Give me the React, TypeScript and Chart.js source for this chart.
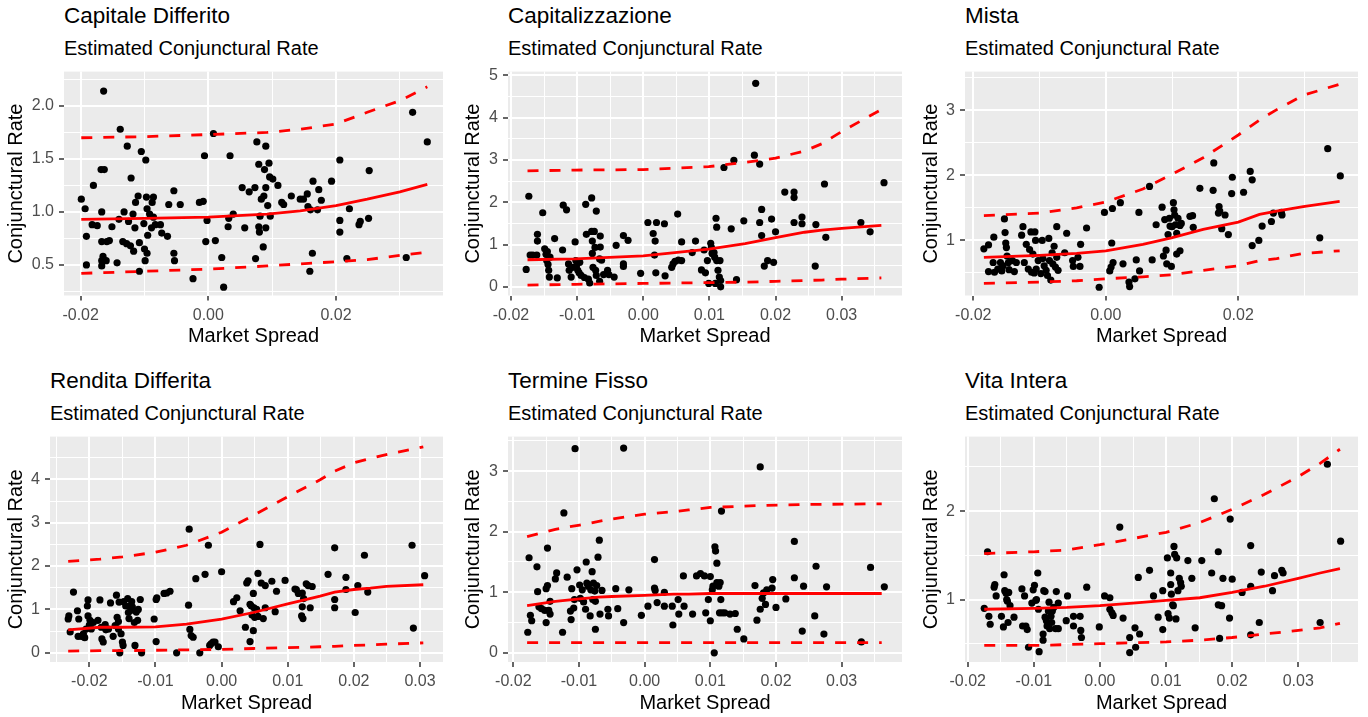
import React, { useEffect, useRef } from "react";
import { Chart, registerables } from "chart.js";

Chart.register(...registerables);

const FONT = "'Liberation Sans', Arial, Helvetica, sans-serif";

// ---------------- DATA ----------------
// Capitale Differito
const capitaleDifferitoSpread = [
  -0.0199, -0.0193, -0.0191, -0.0191, -0.018, -0.0182, -0.0174, -0.0167, -0.0168, -0.0163,
  -0.0164, -0.0167, -0.0165, -0.0167, -0.0167, -0.016, -0.0159, -0.0155, -0.0151, -0.0143,
  -0.014, -0.0138, -0.0134, -0.0132, -0.0128, -0.0127, -0.0125, -0.0122, -0.0121, -0.0118,
  -0.0117, -0.0115, -0.0114, -0.011, -0.0108, -0.0108, -0.0105, -0.0101, -0.01, -0.0099,
  -0.0098, -0.0097, -0.0096, -0.0096, -0.0095, -0.0092, -0.0089, -0.0088, -0.0086, -0.0086,
  -0.0083, -0.0075, -0.0073, -0.0064, -0.0062, -0.0054, -0.0054, -0.0053, -0.0044, -0.0024,
  -0.0014, -0.0008, -0.0006, -0.0004, -0.0002, 0.0008, 0.0011, 0.0021, 0.0024, 0.0031,
  0.0032, 0.0034, 0.0039, 0.0057, 0.0053, 0.0064, 0.0073, 0.0074, 0.0076, 0.0079,
  0.0079, 0.008, 0.0081, 0.0083, 0.0086, 0.0087, 0.0088, 0.009, 0.009, 0.009,
  0.0093, 0.0095, 0.0096, 0.0097, 0.0101, 0.0109, 0.0115, 0.0118, 0.013, 0.0144,
  0.0149, 0.0155, 0.0156, 0.0159, 0.016, 0.0163, 0.0164, 0.0171, 0.0173, 0.0177,
  0.0193, 0.0206, 0.0206, 0.0206, 0.0217, 0.0221, 0.0236, 0.0238, 0.0251, 0.0252,
  0.031, 0.032, 0.0343,
];
const capitaleDifferitoRate = [
  1.12, 1.03, 0.77, 0.5, 1.25, 0.88, 0.87, 1.0, 1.4, 1.4,
  2.14, 0.72, 0.58, 0.54, 0.49, 0.54, 0.72, 0.73, 0.86, 0.52,
  0.93, 1.78, 0.72, 1.0, 0.7, 1.62, 0.91, 0.68, 1.32, 0.98,
  0.63, 0.85, 1.09, 1.15, 0.44, 0.71, 1.57, 0.89, 0.65, 0.54,
  1.49, 1.14, 1.03, 0.61, 0.78, 0.98, 0.85, 1.09, 1.14, 0.95,
  0.88, 0.88, 0.8, 0.77, 1.07, 1.2, 0.61, 0.54, 1.07, 0.37,
  1.09, 1.1, 1.53, 0.72, 0.92, 1.74, 0.73, 0.57, 0.29, 0.86,
  0.94, 1.53, 0.98, 0.85, 1.23, 1.19, 1.23, 0.56, 1.66, 1.45,
  0.86, 0.81, 0.96, 1.12, 0.67, 1.15, 1.4, 1.23, 1.62, 0.85,
  1.06, 1.46, 1.33, 0.96, 1.31, 1.25, 1.09, 1.07, 1.15, 1.12,
  1.12, 1.17, 1.05, 0.44, 1.02, 0.61, 1.29, 1.02, 1.21, 1.11,
  1.29, 1.49, 0.92, 0.81, 0.56, 1.03, 0.88, 0.91, 0.94, 1.39,
  0.57, 1.94, 1.66,
];
const capitaleDifferitoCurveSpread = [-0.0199, -0.01, 0, 0.0092, 0.0144, 0.02, 0.0249, 0.03, 0.0343];
const capitaleDifferitoFit = [0.93, 0.94, 0.95, 0.98, 1.01, 1.06, 1.12, 1.19, 1.26];
const capitaleDifferitoUpper = [1.7, 1.71, 1.73, 1.75, 1.78, 1.83, 1.94, 2.05, 2.18];
const capitaleDifferitoLower = [0.42, 0.44, 0.46, 0.49, 0.51, 0.53, 0.55, 0.59, 0.62];

// Capitalizzazione
const capitalizzazioneSpread = [
  -0.0177, -0.0173, -0.0171, -0.0167, -0.0161, -0.016, -0.016, -0.0152, -0.0149, -0.0147,
  -0.0146, -0.0145, -0.0144, -0.0143, -0.0142, -0.0141, -0.0134, -0.013, -0.0122, -0.0121,
  -0.0116, -0.0113, -0.0112, -0.0109, -0.0107, -0.0103, -0.0102, -0.0101, -0.0099, -0.0097,
  -0.0096, -0.0094, -0.0089, -0.0087, -0.0086, -0.0083, -0.0081, -0.0078, -0.0078, -0.0077,
  -0.0077, -0.0076, -0.0074, -0.0073, -0.0072, -0.0071, -0.0071, -0.0066, -0.0066, -0.0065,
  -0.0065, -0.0063, -0.006, -0.0054, -0.0052, -0.0044, -0.0041, -0.003, -0.003, -0.003,
  -0.0023, -0.0004, 0.0007, 0.0015, 0.0017, 0.0018, 0.0019, 0.002, 0.0032, 0.0033,
  0.0043, 0.0045, 0.0048, 0.0052, 0.0053, 0.0058, 0.0058, 0.0074, 0.0079, 0.0088,
  0.0092, 0.0094, 0.0097, 0.0099, 0.0102, 0.0103, 0.0104, 0.0107, 0.0108, 0.0109,
  0.011, 0.0111, 0.0111, 0.0113, 0.0115, 0.0116, 0.0117, 0.0117, 0.0122, 0.0133,
  0.0137, 0.0141, 0.0152, 0.0168, 0.017, 0.0176, 0.0176, 0.0179, 0.0179, 0.0183,
  0.0188, 0.0194, 0.0197, 0.02, 0.0214, 0.0228, 0.0228, 0.0228, 0.024, 0.024,
  0.026, 0.0261, 0.0274, 0.0276, 0.0329, 0.0343, 0.0364,
];
const capitalizzazioneRate = [
  0.41, 2.14, 0.75, 0.75, 0.75, 1.24, 1.08, 1.75, 0.9, 0.77,
  0.62, 0.83, 0.53, 0.39, 0.23, 0.7, 1.14, 0.21, 0.87, 1.93,
  1.82, 0.54, 0.39, 0.23, 0.46, 1.06, 0.62, 0.49, 0.39, 0.33,
  0.58, 0.27, 0.22, 1.95, 1.24, 0.18, 0.09, 2.1, 1.31, 1.08,
  0.79, 0.46, 1.31, 0.93, 0.39, 1.79, 0.27, 0.66, 0.13, 1.2,
  0.94, 0.63, 0.29, 0.39, 0.29, 0.23, 0.98, 1.21, 0.54, 0.48,
  1.1, 0.32, 1.52, 1.26, 0.75, 1.08, 0.33, 1.52, 1.49, 0.26,
  0.46, 0.54, 0.6, 1.72, 0.63, 1.06, 0.62, 0.81, 1.08, 0.4,
  0.87, 0.33, 0.62, 0.08, 1.03, 0.93, 0.79, 0.81, 0.7, 0.08,
  1.62, 1.41, 0.62, 0.39, 0.23, 0.62, 0.0, 0.15, 2.82, 1.37,
  2.99, 0.17, 1.56, 3.11, 4.81, 2.9, 1.52, 1.83, 1.21, 0.49,
  0.62, 1.6, 0.58, 1.3, 2.24, 2.24, 2.11, 1.52, 1.65, 1.49,
  0.49, 1.47, 2.43, 1.17, 1.52, 1.3, 2.46,
];
const capitalizzazioneCurveSpread = [-0.0175, -0.0103, 0, 0.0099, 0.0154, 0.02, 0.0244, 0.027, 0.03, 0.036];
const capitalizzazioneFit = [0.64, 0.66, 0.73, 0.89, 1.02, 1.16, 1.29, 1.34, 1.38, 1.45];
const capitalizzazioneUpper = [2.74, 2.76, 2.77, 2.84, 2.94, 3.04, 3.21, 3.38, 3.67, 4.19];
const capitalizzazioneLower = [0.04, 0.06, 0.08, 0.1, 0.11, 0.13, 0.15, 0.16, 0.18, 0.21];

// Mista
const mistaSpread = [
  -0.0184, -0.0177, -0.0177, -0.0169, -0.017, -0.0168, -0.0163, -0.0159, -0.0157, -0.0155,
  -0.0153, -0.0152, -0.0151, -0.015, -0.0149, -0.0147, -0.0146, -0.0141, -0.0138, -0.0135,
  -0.0127, -0.0125, -0.0123, -0.012, -0.0117, -0.0115, -0.0113, -0.0112, -0.011, -0.0108,
  -0.0107, -0.0106, -0.0105, -0.0102, -0.0098, -0.0096, -0.0095, -0.0093, -0.009, -0.0088,
  -0.0086, -0.0085, -0.0083, -0.0081, -0.008, -0.0078, -0.0076, -0.0074, -0.0074, -0.0072,
  -0.0062, -0.0059, -0.005, -0.0049, -0.0042, -0.0039, -0.0038, -0.0029, -0.001, -0.0002,
  0.0006, 0.0008, 0.0009, 0.001, 0.0011, 0.0022, 0.0026, 0.0035, 0.0036, 0.0044,
  0.0046, 0.005, 0.0051, 0.0066, 0.007, 0.0076, 0.0085, 0.0087, 0.0089, 0.0091,
  0.0092, 0.0094, 0.0096, 0.0097, 0.0099, 0.01, 0.0102, 0.0103, 0.0104, 0.0105,
  0.0107, 0.0107, 0.0109, 0.0112, 0.0112, 0.0114, 0.0127, 0.0131, 0.0132, 0.0142,
  0.0162, 0.0163, 0.017, 0.0171, 0.0172, 0.0175, 0.018, 0.0185, 0.019, 0.0191,
  0.0208, 0.0218, 0.0221, 0.0221, 0.0231, 0.0236, 0.025, 0.0253, 0.0265, 0.0266,
  0.0323, 0.0335, 0.0354,
];
const mistaRate = [
  0.87, 0.93, 0.52, 1.05, 0.66, 0.51, 0.56, 0.66, 0.53, 0.61,
  1.33, 1.12, 0.96, 0.89, 0.76, 0.66, 0.55, 0.69, 0.52, 0.66,
  1.08, 1.21, 0.66, 0.94, 0.56, 0.86, 1.13, 0.51, 0.79, 0.5,
  1.13, 1.0, 0.56, 0.69, 0.49, 1.0, 0.72, 0.61, 0.54, 0.46,
  1.03, 0.69, 0.39, 0.81, 0.64, 0.91, 0.59, 1.21, 0.74, 0.54,
  0.81, 1.11, 0.69, 0.6, 0.74, 0.6, 0.94, 1.19, 0.28, 1.43,
  0.53, 0.59, 0.96, 1.49, 0.66, 1.58, 0.64, 0.36, 0.29, 0.41,
  0.7, 1.43, 0.53, 1.83, 0.7, 1.24, 1.51, 0.76, 1.32, 0.85,
  0.64, 1.09, 1.34, 1.22, 0.6, 1.21, 1.58, 1.47, 1.39, 1.24,
  0.79, 1.11, 1.34, 1.23, 0.84, 1.26, 1.37, 1.38, 1.2, 1.8,
  1.77, 2.19, 1.42, 1.52, 1.45, 1.18, 1.39, 1.09, 1.72, 1.97,
  1.74, 2.06, 1.93, 0.92, 1.0, 1.22, 1.29, 1.42, 1.43, 1.39,
  1.04, 2.41, 1.99,
];
const mistaCurveSpread = [-0.0184, -0.01, -0.0044, 0, 0.0056, 0.0099, 0.0147, 0.02, 0.0232, 0.0258, 0.0298, 0.0353];
const mistaFit = [0.74, 0.77, 0.8, 0.84, 0.94, 1.04, 1.17, 1.28, 1.4, 1.45, 1.52, 1.6];
const mistaUpper = [1.38, 1.42, 1.5, 1.59, 1.79, 2.01, 2.27, 2.62, 2.85, 3.01, 3.23, 3.4];
const mistaLower = [0.34, 0.36, 0.38, 0.41, 0.44, 0.47, 0.54, 0.61, 0.69, 0.72, 0.8, 0.84];

// Rendita Differita
const renditaDifferitaSpread = [
  -0.0232, -0.0231, -0.0229, -0.0224, -0.0218, -0.0216, -0.0217, -0.0212, -0.0209, -0.0207,
  -0.0205, -0.0203, -0.0202, -0.0202, -0.02, -0.0199, -0.0197, -0.0194, -0.0187, -0.0184,
  -0.0182, -0.0181, -0.0179, -0.0176, -0.0175, -0.0171, -0.0168, -0.0164, -0.0161, -0.0159,
  -0.0158, -0.0156, -0.0156, -0.0155, -0.0154, -0.0152, -0.015, -0.0149, -0.0148, -0.0145,
  -0.0142, -0.0141, -0.014, -0.0139, -0.0137, -0.0136, -0.0135, -0.0132, -0.0131, -0.0129,
  -0.0127, -0.0126, -0.0123, -0.0121, -0.0102, -0.0099, -0.0099, -0.0098, -0.0087, -0.0083,
  -0.0078, -0.0068, -0.005, -0.0049, -0.0048, -0.0046, -0.0043, -0.0039, -0.0033, -0.0025,
  -0.002, -0.0018, -0.0016, -0.0013, -0.001, -0.0005, 0.0, 0.0018, 0.0023, 0.0028,
  0.0036, 0.0038, 0.004, 0.0043, 0.0043, 0.0045, 0.0046, 0.0048, 0.0048, 0.0049,
  0.005, 0.0053, 0.0055, 0.0055, 0.0058, 0.006, 0.0063, 0.0066, 0.0066, 0.0076,
  0.0081, 0.0083, 0.0096, 0.0111, 0.0113, 0.0116, 0.0121, 0.0122, 0.0123, 0.0122,
  0.0124, 0.0128, 0.0131, 0.0134, 0.0137, 0.0161, 0.0171, 0.0171, 0.0171, 0.0188,
  0.0188, 0.0202, 0.0206, 0.0216, 0.0221, 0.029, 0.0288, 0.0307,
];
const renditaDifferitaRate = [
  0.78, 0.85, 0.48, 1.4, 0.97, 0.78, 0.38, 0.38, 0.44, 0.35,
  0.55, 1.08, 1.22, 0.85, 0.64, 0.75, 0.55, 0.7, 0.75, 1.22,
  0.59, 0.32, 0.25, 0.65, 0.53, 0.55, 1.15, 0.38, 0.63, 1.33,
  0.82, 0.72, 0.55, 1.17, 0.0, 0.44, 0.25, 0.17, 1.18, 1.08,
  1.25, 0.93, 0.79, 1.08, 0.98, 1.18, 1.06, 0.7, 0.17, 0.94,
  0.75, 1.0, 1.23, 0.0, 0.78, 0.26, 1.23, 1.27, 1.37, 1.38,
  1.42, 0.0, 1.1, 2.85, 0.54, 0.4, 0.36, 1.71, 0.0, 1.81,
  2.48, 0.17, 0.21, 0.25, 0.25, 0.14, 1.87, 1.18, 1.27, 0.97,
  0.59, 1.61, 1.66, 0.26, 1.12, 1.08, 0.87, 1.37, 0.51, 1.04,
  0.82, 1.0, 1.83, 0.84, 2.5, 1.61, 0.79, 1.55, 1.04, 1.65,
  0.95, 1.42, 1.67, 1.47, 1.46, 1.37, 0.85, 1.06, 0.79, 1.38,
  1.25, 1.59, 1.55, 1.04, 1.53, 1.81, 2.42, 1.23, 1.04, 1.74,
  1.46, 0.93, 1.55, 2.25, 1.4, 0.57, 2.48, 1.78,
];
const renditaDifferitaCurveSpread = [-0.0232, -0.0184, -0.015, -0.01, -0.0053, 0, 0.0048, 0.01, 0.0149, 0.0171, 0.02, 0.0225, 0.0249, 0.0305];
const renditaDifferitaFit = [0.53, 0.59, 0.59, 0.6, 0.66, 0.78, 0.93, 1.13, 1.31, 1.4, 1.46, 1.49, 1.53, 1.57];
const renditaDifferitaUpper = [2.11, 2.16, 2.21, 2.32, 2.48, 2.78, 3.17, 3.6, 3.99, 4.19, 4.38, 4.48, 4.57, 4.75];
const renditaDifferitaLower = [0.04, 0.05, 0.05, 0.06, 0.07, 0.08, 0.1, 0.12, 0.14, 0.15, 0.17, 0.18, 0.2, 0.23];

// Termine Fisso
const termineFissoSpread = [
  -0.0178, -0.0176, -0.0174, -0.0172, -0.0164, -0.0163, -0.0161, -0.0157, -0.0152, -0.015,
  -0.015, -0.0148, -0.0148, -0.0146, -0.0144, -0.0144, -0.0136, -0.0134, -0.0125, -0.0123,
  -0.0118, -0.0113, -0.0112, -0.0111, -0.0108, -0.0107, -0.0106, -0.0103, -0.0099, -0.0098,
  -0.0095, -0.0093, -0.009, -0.0089, -0.0088, -0.0086, -0.0083, -0.0082, -0.008, -0.0079,
  -0.0078, -0.0076, -0.0075, -0.0075, -0.0073, -0.0071, -0.0069, -0.0068, -0.0065, -0.0056,
  -0.0055, -0.0044, -0.0041, -0.0032, -0.0032, -0.0024, -0.0005, 0.0005, 0.0015, 0.0015,
  0.0016, 0.0019, 0.003, 0.003, 0.0042, 0.0043, 0.0051, 0.0052, 0.0059, 0.006,
  0.0073, 0.0079, 0.0085, 0.0091, 0.0093, 0.0097, 0.01, 0.01, 0.0103, 0.0104,
  0.0106, 0.0107, 0.0108, 0.011, 0.011, 0.0113, 0.0114, 0.0115, 0.0116, 0.0117,
  0.0118, 0.0122, 0.013, 0.0138, 0.0141, 0.0151, 0.0168, 0.0171, 0.0176, 0.0176,
  0.0179, 0.0181, 0.0184, 0.0186, 0.0194, 0.0195, 0.02, 0.0215, 0.0228, 0.0228,
  0.024, 0.0242, 0.0259, 0.0261, 0.0273, 0.0277, 0.033, 0.0344, 0.0365,
];
const termineFissoRate = [
  0.34, 1.57, 0.62, 0.53, 1.42, 1.01, 0.76, 0.73, 0.7, 0.5,
  1.06, 1.73, 1.11, 0.7, 0.64, 0.85, 1.22, 1.32, 0.34, 2.31,
  1.25, 0.69, 0.55, 1.06, 0.74, 0.88, 3.37, 1.37, 1.12, 0.9,
  1.04, 0.84, 0.72, 1.5, 1.15, 1.1, 0.61, 1.04, 1.34, 0.88,
  1.15, 1.02, 0.39, 0.85, 1.11, 1.58, 1.86, 0.64, 1.03, 0.72,
  0.61, 1.06, 0.73, 3.38, 0.5, 1.04, 0.62, 0.77, 1.54, 1.07,
  1.03, 0.83, 1.0, 0.77, 0.77, 0.46, 0.88, 0.64, 1.27, 0.77,
  0.64, 1.27, 1.31, 1.27, 0.66, 0.88, 0.53, 1.26, 1.04, 1.1,
  0.0, 1.75, 1.68, 1.48, 1.16, 1.1, 0.66, 1.16, 0.88, 2.34,
  0.66, 0.66, 0.64, 0.65, 0.39, 0.23, 1.11, 0.54, 3.07, 0.72,
  0.9, 0.99, 0.8, 1.04, 1.07, 1.21, 0.75, 0.89, 1.84, 1.24,
  0.36, 1.1, 0.61, 1.43, 0.31, 1.09, 0.18, 1.41, 1.09,
];
const termineFissoCurveSpread = [-0.0179, -0.0136, -0.0099, -0.007, -0.005, 0, 0.0044, 0.0067, 0.01, 0.0169, 0.0245, 0.0361];
const termineFissoFit = [0.78, 0.85, 0.89, 0.92, 0.93, 0.95, 0.97, 0.97, 0.98, 0.98, 0.98, 0.98];
const termineFissoUpper = [1.92, 2.04, 2.11, 2.17, 2.21, 2.29, 2.33, 2.36, 2.4, 2.43, 2.45, 2.46];
const termineFissoLower = [0.17, 0.17, 0.17, 0.17, 0.17, 0.17, 0.17, 0.17, 0.17, 0.17, 0.17, 0.17];

// Vita Intera
const vitaInteraSpread = [
  -0.0175, -0.017, -0.0168, -0.0166, -0.016, -0.0159, -0.0157, -0.0149, -0.0146, -0.0145,
  -0.0144, -0.0142, -0.0141, -0.014, -0.0139, -0.0138, -0.0136, -0.013, -0.0118, -0.0117,
  -0.0114, -0.0112, -0.011, -0.0108, -0.0103, -0.0101, -0.0099, -0.0097, -0.0096, -0.0094,
  -0.0093, -0.0092, -0.0086, -0.0086, -0.0085, -0.0083, -0.0083, -0.0081, -0.008, -0.0078,
  -0.0077, -0.0076, -0.0074, -0.0073, -0.0072, -0.007, -0.0067, -0.0066, -0.0063, -0.0063,
  -0.0051, -0.0049, -0.004, -0.004, -0.003, -0.0029, -0.0028, -0.002, -0.0001, 0.0007,
  0.0015, 0.0015, 0.0018, 0.002, 0.003, 0.0035, 0.0045, 0.0045, 0.0053, 0.0054,
  0.006, 0.0058, 0.0075, 0.0081, 0.0088, 0.0095, 0.0095, 0.0102, 0.0103, 0.0105,
  0.0107, 0.0107, 0.0108, 0.011, 0.0111, 0.0112, 0.0113, 0.0115, 0.0116, 0.0118,
  0.012, 0.0122, 0.0123, 0.0133, 0.0139, 0.0144, 0.0154, 0.0169, 0.0173, 0.0179,
  0.0179, 0.0181, 0.0184, 0.0186, 0.0196, 0.0197, 0.02, 0.0215, 0.0228, 0.0228,
  0.0228, 0.0241, 0.0244, 0.0261, 0.0264, 0.0275, 0.0277, 0.0333, 0.0344, 0.0364,
];
const vitaInteraRate = [
  0.9, 1.54, 0.81, 0.72, 1.14, 1.17, 1.04, 0.81, 0.69, 1.28,
  1.1, 1.07, 1.0, 0.98, 0.74, 1.08, 0.93, 0.8, 1.12, 0.7,
  1.04, 0.7, 0.66, 0.46, 0.96, 1.11, 1.16, 0.99, 1.0, 1.3,
  0.89, 0.41, 0.54, 0.61, 1.1, 1.09, 0.8, 0.76, 0.7, 0.87,
  0.97, 0.67, 0.81, 0.74, 0.87, 0.91, 0.67, 1.09, 0.96, 0.67,
  0.76, 1.04, 0.81, 0.7, 0.81, 0.65, 0.57, 1.14, 0.69, 1.04,
  1.02, 0.89, 0.85, 0.82, 1.82, 0.79, 0.57, 0.4, 0.68, 0.46,
  0.61, 1.25, 1.33, 1.04, 0.8, 0.66, 1.1, 1.47, 0.84, 0.79,
  1.3, 1.17, 1.06, 0.94, 0.93, 1.6, 1.51, 0.78, 1.47, 1.1,
  1.24, 1.19, 1.15, 1.44, 1.24, 0.68, 1.44, 1.3, 2.14, 1.54,
  0.94, 0.56, 0.93, 1.24, 0.79, 1.91, 1.23, 1.08, 1.61, 1.15,
  0.6, 0.74, 1.31, 1.1, 1.27, 1.33, 1.3, 0.74, 2.53, 1.66,
];
const vitaInteraCurveSpread = [-0.0175, -0.01, -0.005, 0, 0.005, 0.01, 0.0151, 0.02, 0.0249, 0.03, 0.0333, 0.0363];
const vitaInteraFit = [0.89, 0.9, 0.91, 0.93, 0.96, 0.99, 1.02, 1.08, 1.15, 1.24, 1.3, 1.35];
const vitaInteraUpper = [1.52, 1.54, 1.56, 1.62, 1.69, 1.76, 1.87, 2.02, 2.19, 2.39, 2.54, 2.7];
const vitaInteraLower = [0.48, 0.48, 0.49, 0.5, 0.51, 0.52, 0.54, 0.57, 0.61, 0.65, 0.68, 0.73];

// Tick values
const spreadTicksCoarse = [-0.02, 0, 0.02];
const spreadMinorCoarse = [-0.01, 0.01, 0.03];
const spreadTicksFine = [-0.02, -0.01, 0, 0.01, 0.02, 0.03];
const spreadMinorFine = [-0.015, -0.005, 0.005, 0.015, 0.025, 0.035];
const spreadMinorRendita = [-0.025, -0.015, -0.005, 0.005, 0.015, 0.025];
const rateTicksCapitale = [0.5, 1.0, 1.5, 2.0];
const rateMinorCapitale = [0.25, 0.75, 1.25, 1.75, 2.25];
const rateTicksCapitalizzazione = [0, 1, 2, 3, 4, 5];
const rateMinorCapitalizzazione = [0.5, 1.5, 2.5, 3.5, 4.5];
const rateTicksMista = [1, 2, 3];
const rateMinorMista = [0.5, 1.5, 2.5, 3.5];
const rateTicksRendita = [0, 1, 2, 3, 4];
const rateMinorRendita = [0.5, 1.5, 2.5, 3.5, 4.5];
const rateTicksTermine = [0, 1, 2, 3];
const rateMinorTermine = [0.5, 1.5, 2.5, 3.5];
const rateTicksVita = [1, 2];
const rateMinorVita = [0.5, 1.5, 2.5];

const SUBTITLE = "Estimated Conjunctural Rate";
const X_TITLE = "Market Spread";
const Y_TITLE = "Conjunctural Rate";

// ---------------- PANELS ----------------
type PanelDef = {
  title: string;
  xs: number[]; ys: number[];
  cx: number[]; fit: number[]; upper: number[]; lower: number[];
  xMin: number; xMax: number; yMin: number; yMax: number;
  xMajor: number[]; xMinor: number[]; yMajor: number[]; yMinor: number[];
  yDec: number;
  CL: number; L: number; R: number; T: number; B: number;
};

const panels: PanelDef[] = [
  {
    title: "Capitale Differito",
    xs: capitaleDifferitoSpread, ys: capitaleDifferitoRate,
    cx: capitaleDifferitoCurveSpread, fit: capitaleDifferitoFit, upper: capitaleDifferitoUpper, lower: capitaleDifferitoLower,
    xMin: -0.02261, xMax: 0.03676, yMin: 0.2114, yMax: 2.324,
    xMajor: spreadTicksCoarse, xMinor: spreadMinorCoarse, yMajor: rateTicksCapitale, yMinor: rateMinorCapitale, yDec: 1,
    CL: 0, L: 64, R: 443, T: 67, B: 295.5,
  },
  {
    title: "Capitalizzazione",
    xs: capitalizzazioneSpread, ys: capitalizzazioneRate,
    cx: capitalizzazioneCurveSpread, fit: capitalizzazioneFit, upper: capitalizzazioneUpper, lower: capitalizzazioneLower,
    xMin: -0.02045, xMax: 0.03912, yMin: -0.205, yMax: 5.086,
    xMajor: spreadTicksFine, xMinor: spreadMinorFine, yMajor: rateTicksCapitalizzazione, yMinor: rateMinorCapitalizzazione, yDec: 0,
    CL: 457, L: 508, R: 902, T: 67, B: 295.5,
  },
  {
    title: "Mista",
    xs: mistaSpread, ys: mistaRate,
    cx: mistaCurveSpread, fit: mistaFit, upper: mistaUpper, lower: mistaLower,
    xMin: -0.02125, xMax: 0.03807, yMin: 0.153, yMax: 3.594,
    xMajor: spreadTicksCoarse, xMinor: spreadMinorCoarse, yMajor: rateTicksMista, yMinor: rateMinorMista, yDec: 0,
    CL: 915, L: 965, R: 1358, T: 67, B: 295.5,
  },
  {
    title: "Rendita Differita",
    xs: renditaDifferitaSpread, ys: renditaDifferitaRate,
    cx: renditaDifferitaCurveSpread, fit: renditaDifferitaFit, upper: renditaDifferitaUpper, lower: renditaDifferitaLower,
    xMin: -0.02595, xMax: 0.03348, yMin: -0.211, yMax: 4.985,
    xMajor: spreadTicksFine, xMinor: spreadMinorRendita, yMajor: rateTicksRendita, yMinor: rateMinorRendita, yDec: 0,
    CL: 0, L: 50, R: 443, T: 432, B: 662,
  },
  {
    title: "Termine Fisso",
    xs: termineFissoSpread, ys: termineFissoRate,
    cx: termineFissoCurveSpread, fit: termineFissoFit, upper: termineFissoUpper, lower: termineFissoLower,
    xMin: -0.02081, xMax: 0.03919, yMin: -0.151, yMax: 3.57,
    xMajor: spreadTicksFine, xMinor: spreadMinorFine, yMajor: rateTicksTermine, yMinor: rateMinorTermine, yDec: 0,
    CL: 457, L: 508, R: 902, T: 432, B: 662,
  },
  {
    title: "Vita Intera",
    xs: vitaInteraSpread, ys: vitaInteraRate,
    cx: vitaInteraCurveSpread, fit: vitaInteraFit, upper: vitaInteraUpper, lower: vitaInteraLower,
    xMin: -0.02041, xMax: 0.03903, yMin: 0.293, yMax: 2.843,
    xMajor: spreadTicksFine, xMinor: spreadMinorFine, yMajor: rateTicksVita, yMinor: rateMinorVita, yDec: 0,
    CL: 915, L: 965, R: 1358, T: 432, B: 662,
  },
];

const X_AXIS_H = 53;
const PAD_TOP = 10;
const PAD_RIGHT = 6;

const bgPlugin = {
  id: "panelBackground",
  beforeDraw(chart: any) {
    const a = chart.chartArea;
    const ctx = chart.ctx;
    ctx.save();
    ctx.fillStyle = "#EBEBEB";
    ctx.fillRect(a.left, a.top, a.right - a.left, a.bottom - a.top);
    ctx.restore();
  },
};

const near = (arr: number[], v: number) => arr.some((m) => Math.abs(m - v) < 1e-9);

function PanelChart({ p }: { p: PanelDef }) {
  const ref = useRef<HTMLCanvasElement | null>(null);
  const CT = p.T - PAD_TOP;
  const W = p.R + PAD_RIGHT - p.CL;
  const H = Math.round(p.B + X_AXIS_H + 3 - CT);
  const padBottom = H - (p.B - CT) - X_AXIS_H;

  useEffect(() => {
    if (!ref.current) return;
    const xTicks = [...p.xMajor, ...p.xMinor].sort((a, b) => a - b);
    const yTicks = [...p.yMajor, ...p.yMinor].sort((a, b) => a - b);
    const line = (ys: number[], dash: number[]) => ({
      type: "scatter" as const,
      data: p.cx.map((x, i) => ({ x, y: ys[i] })),
      showLine: true,
      borderColor: "#FF0000",
      backgroundColor: "#FF0000",
      borderWidth: 2.8,
      borderDash: dash,
      pointRadius: 0,
      pointHoverRadius: 0,
      tension: 0,
      fill: false,
      order: 0,
    });
    const chart = new Chart(ref.current, {
      type: "scatter",
      data: {
        datasets: [
          line(p.fit, []),
          line(p.upper, [11, 11]),
          line(p.lower, [11, 11]),
          {
            type: "scatter",
            data: p.xs.map((x, i) => ({ x, y: p.ys[i] })),
            pointRadius: 3.6,
            pointHoverRadius: 3.6,
            pointBackgroundColor: "#000000",
            pointBorderColor: "#000000",
            pointBorderWidth: 0,
            order: 1,
          } as any,
        ],
      },
      options: {
        animation: false,
        responsive: false,
        maintainAspectRatio: false,
        devicePixelRatio: 1,
        events: [],
        layout: { padding: { top: PAD_TOP, right: PAD_RIGHT, bottom: padBottom, left: 0 } },
        plugins: {
          legend: { display: false },
          tooltip: { enabled: false },
          title: { display: false },
        },
        scales: {
          x: {
            type: "linear",
            position: "bottom",
            min: p.xMin,
            max: p.xMax,
            afterBuildTicks: (scale: any) => {
              scale.ticks = xTicks.map((v) => ({ value: v }));
            },
            afterFit: (scale: any) => {
              scale.height = X_AXIS_H;
            },
            ticks: {
              autoSkip: false,
              maxRotation: 0,
              minRotation: 0,
              padding: 5,
              color: "#4D4D4D",
              font: { family: FONT, size: 16 },
              callback: (v: any) => (near(p.xMajor, Number(v)) ? Number(v).toFixed(2) : ""),
            },
            grid: {
              color: "#FFFFFF",
              lineWidth: (ctx: any) => (ctx.tick && near(p.xMajor, ctx.tick.value) ? 2 : 1),
              drawTicks: true,
              tickLength: 5,
              tickWidth: 1.5,
              tickColor: (ctx: any) => (ctx.tick && near(p.xMajor, ctx.tick.value) ? "#333333" : "rgba(0,0,0,0)"),
            },
            border: { display: false },
            title: {
              display: true,
              text: X_TITLE,
              color: "#000000",
              font: { family: FONT, size: 20 },
              padding: { top: 0, bottom: 0 },
            },
          },
          y: {
            type: "linear",
            position: "left",
            min: p.yMin,
            max: p.yMax,
            afterBuildTicks: (scale: any) => {
              scale.ticks = yTicks.map((v) => ({ value: v }));
            },
            afterFit: (scale: any) => {
              scale.width = p.L - p.CL;
            },
            ticks: {
              autoSkip: false,
              padding: 5,
              color: "#4D4D4D",
              font: { family: FONT, size: 16 },
              callback: (v: any) => (near(p.yMajor, Number(v)) ? Number(v).toFixed(p.yDec) : ""),
            },
            grid: {
              color: "#FFFFFF",
              lineWidth: (ctx: any) => (ctx.tick && near(p.yMajor, ctx.tick.value) ? 2 : 1),
              drawTicks: true,
              tickLength: 5,
              tickWidth: 1.5,
              tickColor: (ctx: any) => (ctx.tick && near(p.yMajor, ctx.tick.value) ? "#333333" : "rgba(0,0,0,0)"),
            },
            border: { display: false },
            title: {
              display: true,
              text: Y_TITLE,
              color: "#000000",
              font: { family: FONT, size: 20 },
              padding: { top: 4, bottom: 0 },
            },
          },
        },
      } as any,
      plugins: [bgPlugin],
    });
    return () => chart.destroy();
  }, [p]);

  return (
    <>
      <div
        style={{
          position: "absolute",
          left: p.L,
          top: p.T - 62.5,
          fontFamily: FONT,
          fontSize: "22.5px",
          lineHeight: "22.5px",
          color: "#000000",
          whiteSpace: "nowrap",
        }}
      >
        {p.title}
      </div>
      <div
        style={{
          position: "absolute",
          left: p.L,
          top: p.T - 29,
          fontFamily: FONT,
          fontSize: "20px",
          lineHeight: "20px",
          color: "#000000",
          whiteSpace: "nowrap",
        }}
      >
        {SUBTITLE}
      </div>
      <canvas
        ref={ref}
        width={W}
        height={H}
        style={{ position: "absolute", left: p.CL, top: CT, width: W, height: H }}
      />
    </>
  );
}

export default function App() {
  return (
    <div
      style={{
        position: "absolute",
        left: 0,
        top: 0,
        width: 1368,
        height: 717,
        overflow: "hidden",
        background: "#FFFFFF",
      }}
    >
      {panels.map((p) => (
        <PanelChart key={p.title} p={p} />
      ))}
    </div>
  );
}
